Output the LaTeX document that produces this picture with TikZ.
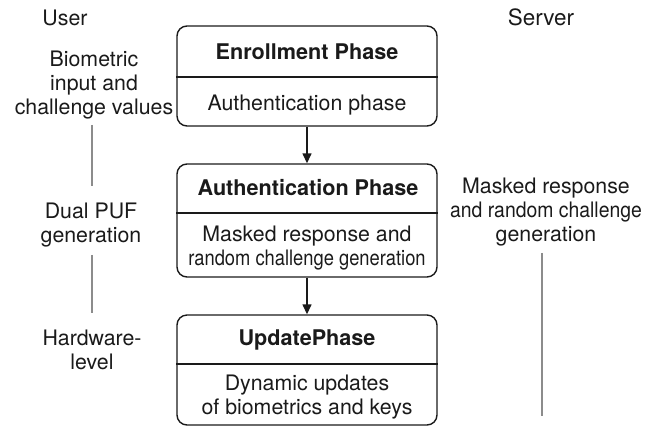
\documentclass[tikz,border=0pt]{standalone}
\usepackage{fontspec}
\setmainfont{TeX Gyre Heros}
\usetikzlibrary{arrows.meta}
\definecolor{ink}{HTML}{1A1A1A}
\definecolor{guidegray}{HTML}{8C8C8C}
\newcommand{\narrowby}[2]{\scalebox{#1}[1]{#2}}
\begin{document}
\begin{tikzpicture}[x=1bp,y=-1bp,
  phasebox/.style={draw=ink, line width=1.4bp, rounded corners=10bp, minimum width=260bp, inner sep=0pt},
  sepline/.style={draw=ink, line width=1.1bp},
  lbl/.style={font=\fontsize{21.4}{24}\selectfont, align=center, inner sep=0pt, text=ink, anchor=base},
  ttl/.style={font=\fontsize{21.7}{24}\selectfont\bfseries, inner sep=0pt, text=ink, anchor=base},
  flow/.style={-{Triangle[length=10bp,width=9bp]}, line width=1.4bp, draw=ink},
  guide/.style={draw=guidegray, line width=1.1bp}]
\useasboundingbox (0,0) rectangle (659,428);

% phase boxes
\node[phasebox, minimum height=100bp] (b1) at (307,76) {};
\node[phasebox, minimum height=113bp] (b2) at (307,220.5) {};
\node[phasebox, minimum height=110bp] (b3) at (307,370) {};

\coordinate (s1) at (307,77);
\coordinate (s2) at (307,213);
\coordinate (s3) at (307,364);
\draw[sepline] (b1.west |- s1) -- (b1.east |- s1);
\draw[sepline] (b2.west |- s2) -- (b2.east |- s2);
\draw[sepline] (b3.west |- s3) -- (b3.east |- s3);

\node[ttl] (t1) at (307,59) {Enrollment Phase};
\node[lbl] (x1) at (307,110) {Authentication phase};
\node[ttl] (t2) at (308,195) {Authentication Phase};
\node[lbl] (x2) at (307,265) {Masked response and\\\narrowby{0.86}{random challenge generation}};
\node[ttl] (t3) at (307,345) {UpdatePhase};
\node[lbl] (x3) at (307,414) {Dynamic updates\\of biometrics and keys};

\draw[flow] (b1.south) -- (b2.north);
\draw[flow] (b2.south) -- (b3.north);

% user side
\node[lbl] (user) at (65,25) {User};
\node[lbl] (bio) at (94,114) {Biometric\\input and\\challenge values};
\node[lbl] (dual) at (91,242) {Dual PUF\\generation};
\node[lbl] (hw) at (92,369) {Hardware-\\level};
\draw[guide, shorten <=6bp, shorten >=16bp] (bio.south -| 92,0) -- (dual.north -| 92,0);
\draw[guide, shorten <=8bp, shorten >=16bp] (dual.south -| 92,0) -- (hw.north -| 92,0);

% server side
\node[lbl, font=\fontsize{22.5}{24}\selectfont] (server) at (541,25) {Server};
\node[lbl] (srv) at (546,241) {Masked response\\\narrowby{0.91}{and random challenge}\\generation};
\coordinate (srvend) at (542,416);
\draw[guide, shorten <=7bp] (srv.south -| srvend) -- (srvend);
\end{tikzpicture}
\end{document}
